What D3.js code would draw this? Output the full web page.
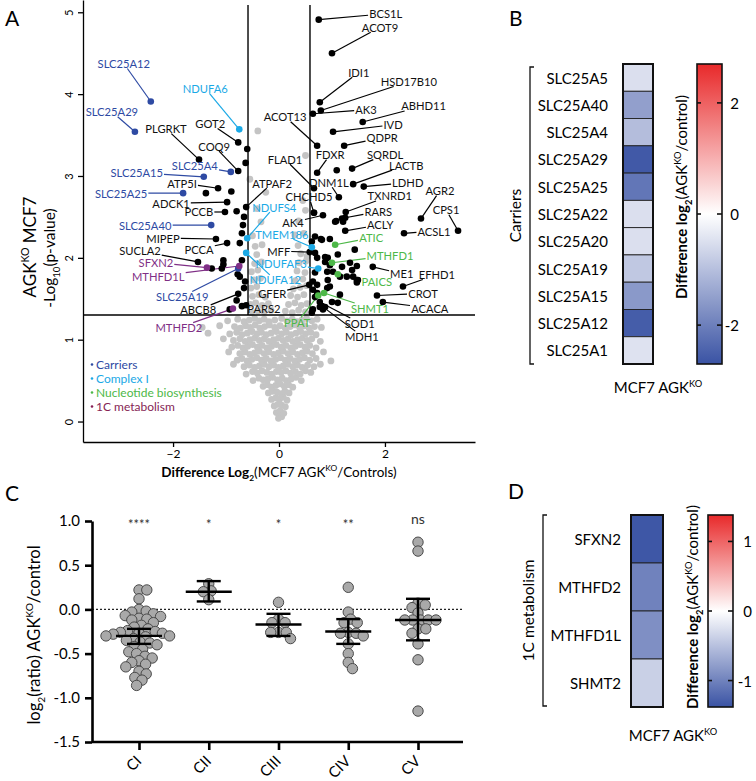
<!DOCTYPE html>
<html><head><meta charset="utf-8">
<script src="https://cdn.jsdelivr.net/npm/d3@7"></script>
<style>body{margin:0;background:#fff} text{font-family:Lato,'Open Sans',sans-serif}</style>
</head><body><svg id="c" width="756" height="781"></svg>
<script>
// ---------------- DATA ----------------
// Panel A: volcano plot  (x = log2 difference, y = -log10 p)
const grayPoints = [
 [-0.01,0.04],[0.05,0.06],
 [-0.05,0.11],[0.02,0.13],[0.09,0.1],
 [-0.09,0.19],[-0.02,0.21],[0.05,0.2],[0.12,0.18],
 [-0.14,0.27],[-0.06,0.29],[0.01,0.27],[0.08,0.3],[0.15,0.26],
 [-0.2,0.35],[-0.12,0.37],[-0.04,0.36],[0.04,0.34],[0.11,0.37],[0.19,0.35],
 [-0.3,0.43],[-0.22,0.45],[-0.14,0.42],[-0.06,0.44],[0.02,0.46],[0.1,0.43],[0.18,0.45],[0.26,0.42],
 [-0.49,0.5],[-0.38,0.53],[-0.3,0.51],[-0.21,0.52],[-0.12,0.54],[-0.03,0.51],[0.06,0.53],[0.14,0.5],[0.23,0.52],[0.32,0.54],[0.42,0.5],
 [-0.62,0.58],[-0.5,0.61],[-0.41,0.59],[-0.32,0.62],[-0.23,0.6],[-0.14,0.58],[-0.05,0.61],[0.04,0.6],[0.13,0.62],[0.22,0.59],[0.31,0.61],[0.4,0.58],[0.5,0.62],[0.6,0.6],
 [-0.86,0.7],[-0.66,0.67],[-0.56,0.69],[-0.46,0.66],[-0.37,0.68],[-0.28,0.7],[-0.19,0.67],[-0.1,0.69],[-0.01,0.66],[0.08,0.68],[0.17,0.7],[0.26,0.67],[0.35,0.69],[0.44,0.66],[0.54,0.69],[0.66,0.67],[0.78,0.7],
 [-0.79,0.75],[-0.7,0.77],[-0.6,0.74],[-0.51,0.76],[-0.42,0.78],[-0.33,0.75],[-0.24,0.77],[-0.15,0.74],[-0.06,0.76],[0.03,0.78],[0.12,0.75],[0.21,0.77],[0.3,0.74],[0.39,0.76],[0.48,0.78],[0.58,0.75],[0.7,0.77],[0.98,0.74],
 [-0.95,0.85],[-0.74,0.83],[-0.64,0.85],[-0.55,0.82],[-0.46,0.84],[-0.37,0.86],[-0.28,0.83],[-0.19,0.85],[-0.1,0.82],[-0.01,0.84],[0.08,0.86],[0.17,0.83],[0.26,0.85],[0.35,0.82],[0.44,0.84],[0.53,0.86],[0.63,0.83],[0.84,0.85],
 [-0.89,0.91],[-0.78,0.93],[-0.68,0.9],[-0.59,0.92],[-0.5,0.94],[-0.41,0.91],[-0.32,0.93],[-0.23,0.9],[-0.14,0.92],[-0.05,0.94],[0.04,0.91],[0.13,0.93],[0.22,0.9],[0.31,0.92],[0.4,0.94],[0.49,0.91],[0.58,0.93],[0.7,0.9],
 [-1.05,1.01],[-0.86,0.99],[-0.74,1.01],[-0.64,0.98],[-0.55,1.0],[-0.46,1.02],[-0.37,0.99],[-0.28,1.01],[-0.19,0.98],[-0.1,1.0],[-0.01,1.02],[0.08,0.99],[0.17,1.01],[0.26,0.98],[0.35,1.0],[0.44,1.02],[0.53,0.99],[0.62,1.01],[0.78,0.98],
 [-1.34,1.08],[-0.93,1.07],[-0.8,1.09],[-0.7,1.06],[-0.6,1.08],[-0.51,1.1],[-0.42,1.07],[-0.33,1.09],[-0.24,1.06],[-0.15,1.08],[-0.05,1.1],[0.05,1.07],[0.14,1.09],[0.23,1.06],[0.32,1.08],[0.41,1.1],[0.5,1.07],[0.6,1.09],[0.7,1.06],
 [-1.45,1.15],[-1.12,1.17],[-0.84,1.16],[-0.73,1.14],[-0.63,1.17],[-0.54,1.15],[-0.45,1.18],[-0.36,1.14],[-0.27,1.16],[-0.18,1.18],[-0.08,1.15],[0.02,1.17],[0.12,1.14],[0.21,1.16],[0.3,1.18],[0.39,1.15],[0.48,1.17],[0.57,1.14],[0.67,1.16],[0.8,1.15],
 [-0.97,1.23],[-0.78,1.25],[-0.66,1.22],[-0.56,1.24],[-0.46,1.26],[-0.37,1.23],[-0.28,1.25],[-0.19,1.22],[-0.08,1.24],[0.05,1.26],[0.15,1.23],[0.25,1.25],[0.34,1.22],[0.43,1.24],[0.52,1.26],[0.62,1.23],[0.72,1.25],
 [-0.52,1.33],[-0.4,1.35],[-0.28,1.34],[-0.15,1.36],[0.12,1.35],[0.25,1.33],[0.37,1.36],[0.5,1.34],
 [-0.54,1.43],[-0.44,1.45],[-0.32,1.42],[-0.2,1.44],[0.18,1.43],[0.3,1.45],[0.42,1.42],[0.53,1.44],
 [-0.5,1.53],[-0.38,1.55],[-0.26,1.52],[0.22,1.54],[0.35,1.52],[0.47,1.55],
 [-0.53,1.63],[-0.42,1.65],[0.27,1.62],[0.4,1.64],[0.52,1.66],
 [-0.47,1.73],[-0.35,1.75],[0.31,1.72],[0.45,1.74],
 [-0.52,1.83],[-0.4,1.85],[0.34,1.84],[0.49,1.82],
 [-0.46,1.93],[-0.33,1.95],[0.38,1.94],[0.51,1.96],
 [-0.42,2.04],[0.41,2.05],[0.53,2.02],
 [-0.45,2.14],[-0.32,2.16],[0.36,2.15],
 [-0.5,2.27],[0.3,2.28],[0.47,2.3],
 [-0.34,2.44],[0.37,2.45],
 [-0.41,2.6],[0.5,2.58],[0.45,2.7],
 [-0.25,2.8],[-0.55,2.96],[0.5,3.25],[-0.4,3.55]
];
const blackPoints = [
 [-0.6,3.33],[-0.63,3.16],[-1.38,2.79],[-0.9,2.81],[-0.8,2.57],[-1.27,1.87],[-1.08,1.87],[-1.05,1.97],
 [-1.05,1.92],[-0.78,1.8],[-0.74,1.77],[-0.64,1.71],[-0.74,2.18],[-0.7,2.3],[-0.68,2.4],[-0.66,2.5],
 [-0.8,1.48],[-0.62,1.42],[-0.93,1.37],[-0.7,1.97],[-0.66,1.63],
 [0.66,2.55],[1.06,2.44],[1.21,2.44],[0.68,2.26],[0.62,2.2],[0.81,2.22],[0.96,2.23],[1.43,2.1],
 [0.68,2.06],[0.72,2.0],[0.92,2.0],[0.87,1.95],[0.96,1.91],[1.19,1.89],[1.38,1.85],[1.47,1.7],
 [1.28,1.77],[1.47,1.73],[0.91,1.83],[0.92,1.73],[0.68,1.82],[0.64,1.71],[0.72,1.67],[0.64,1.61],
 [0.68,1.52],[0.91,1.63],[0.87,1.4],[0.83,1.37],[0.64,1.37],[0.62,1.33],[1.11,1.45],[1.15,1.55],
 [1.09,3.07],[1.19,2.48],[1.08,2.45],[0.79,2.23],[1.11,2.04],[1.34,1.94],[1.47,1.9],[0.87,2.01],
 [1.02,1.83],[1.15,1.77],[1.4,1.77],[1.49,1.73],[0.96,1.65],[0.72,1.57],[1.0,1.46],[0.77,1.4]
];
// labelled proteins: name, x, y, category
const labelNames = ['BCS1L','ACOT9','IDI1','HSD17B10','AK3','ABHD11','IVD','ACOT13','QDPR','FDXR','SQRDL','LACTB','LDHD','FLAD1','DNM1L','CHCHD5','TXNRD1','RARS','AK4','AGR2','ACLY','CPS1','ACSL1','MFF','ME1','EFHD1','GFER','CROT','ACACA','SOD1','MDH1',
 'GOT2','PLGRKT','COQ9','ATP5I','ADCK1','PCCB','ATPAF2','MIPEP','PCCA','SUCLA2','ABCB8','PARS2',
 'SLC25A12','SLC25A29','SLC25A4','SLC25A15','SLC25A25','SLC25A40','SLC25A19',
 'NDUFA6','NDUFS4','NDUFA12','TMEM186','NDUFAF3',
 'ATIC','MTHFD1','PAICS','SHMT1','PPAT',
 'SFXN2','MTHFD1L','MTHFD2'];
const labelX = [0.75,1.0,0.77,0.79,0.64,1.58,1.02,0.72,1.23,0.72,1.38,1.4,1.6,0.66,1.13,0.66,1.26,1.25,0.83,2.68,1.25,3.38,2.36,0.58,1.77,2.34,0.57,1.85,1.96,0.77,0.81,
 -0.77,-1.51,-0.77,-1.15,-0.98,-1.02,-0.62,-1.19,-0.98,-1.53,-0.77,-0.7,
 -2.42,-2.72,-0.91,-1.42,-1.81,-1.28,-0.77,
 -0.75,-0.6,-0.62,0.62,0.74,
 1.06,1.0,1.11,0.85,0.74,
 -1.36,-0.75,-0.87];
const labelY = [4.91,4.5,3.9,3.8,3.76,3.66,3.54,3.37,3.37,3.04,3.09,2.9,2.87,2.85,2.74,2.55,2.56,2.49,2.52,2.48,2.33,2.33,2.3,2.07,1.89,1.65,1.67,1.54,1.46,1.46,1.41,
 3.41,3.2,3.06,2.85,2.68,2.56,2.62,2.23,2.18,1.95,1.56,1.41,
 3.91,3.54,3.05,2.99,2.79,2.4,1.87,
 3.57,2.24,2.06,2.13,1.87,
 2.16,1.94,1.8,1.57,1.54,
 1.88,1.9,1.38];
const labelCat = [].concat(Array(43).fill('none'),Array(7).fill('carrier'),Array(5).fill('cI'),Array(5).fill('nuc'),Array(3).fill('oneC'));
// label text offsets from their point (px) – layout
const labelOff = [[67,-6],[48,-26],[39,-30],[88,-29],[53,-4],[61,-16],[60,-7],[-32,-29],[38,-8],[13,-18],[33,-14],[53,-19],[44,-4],[-29,-29],[-10,-15],[-5,-16],[44,-16],[33,-6],[-30,7],[19,-28],[35,-6],[-12,-21],[30,-2],[-31,-1],[29,7],[34,-12],[-37,9],[46,-2],[47,6],[40,21],[40,30],
 [-28,-19],[-33,-31],[-24,-25],[-36,-5],[-56,1],[-26,0],[26,-24],[-53,-1],[-28,6],[-58,-11],[-40,16],[22,2],
 [-27,-38],[-23,-20],[-36,-6],[-67,-4],[-62,0],[-66,0],[-56,28],
 [-34,-41],[27,-31],[29,27],[-30,-13],[-37,-5],
 [36,-7],[58,-7],[39,7],[46,15],[-21,27],
 [-51,-5],[-81,10],[-54,19]];
const legendNames = ['Carriers','Complex I','Nucleotide biosynthesis','1C metabolism'];
const yTicksA = [0,1,2,3,4,5];
const xTicksA = [-2,0,2];

// Panel B heatmap
const bGenes = ['SLC25A5','SLC25A40','SLC25A4','SLC25A29','SLC25A25','SLC25A22','SLC25A20','SLC25A19','SLC25A15','SLC25A12','SLC25A1'];
const bVals = [-0.5,-1.5,-1.03,-2.6,-2.15,-0.5,-0.5,-0.87,-1.6,-2.55,-0.45];
const bTicks = [-2,0,2];
// Panel D heatmap
const dGenes = ['SFXN2','MTHFD2','MTHFD1L','SHMT2'];
const dVals = [-1.35,-1.0,-0.9,-0.38];
const dTicks = [-1,0,1];
// Panel C dot plot
const cCats = ['CI','CII','CIII','CIV','CV'];
const cSig = ['****','*','*','**','ns'];
const cMean = [-0.3,0.2,-0.17,-0.25,-0.12];
const cLow = [-0.39,0.09,-0.3,-0.39,-0.35];
const cHigh = [-0.22,0.32,-0.05,-0.11,0.12];
const cCI = [0.22,0.22,0.12,0.0,-0.02,-0.03,-0.05,-0.07,-0.08,-0.1,-0.11,-0.12,-0.15,-0.18,-0.2,-0.22,-0.24,-0.25,-0.26,-0.27,-0.27,-0.28,-0.3,-0.3,-0.31,-0.33,-0.35,-0.37,-0.38,-0.4,-0.42,-0.45,-0.48,-0.5,-0.53,-0.55,-0.58,-0.6,-0.62,-0.65,-0.7,-0.73,-0.77,-0.8,-0.86];
const cCII = [0.29,0.21,0.2,0.11];
const cCIII = [0.08,-0.11,-0.15,-0.15,-0.26,-0.26,-0.26,-0.33];
const cCIV = [0.25,-0.03,-0.11,-0.15,-0.15,-0.26,-0.27,-0.27,-0.3,-0.39,-0.5,-0.6,-0.67];
const cCV = [0.76,0.66,0.07,0.05,0.02,-0.04,-0.12,-0.12,-0.12,-0.12,-0.12,-0.22,-0.22,-0.27,-0.39,-0.57,-1.15];
const cTicks = [-1.5,-1.0,-0.5,0.0,0.5,1.0];

// ---------------- DRAW ----------------
const svg = d3.select('#c');
const catColor = {none:'#000', carrier:'#2e4aa3', cI:'#1ba9e6', nuc:'#4db848', oneC:'#7f2f86'};
const legColor = ['#2e4aa3','#1ba9e6','#4db848','#861f55'];

function rich(t, parts, size){
  let cur = 0;
  parts.forEach(p=>{
    const ts = t.append('tspan').text(p.t);
    const off = p.sub ? size*0.3 : (p.sup ? -size*0.42 : 0);
    ts.attr('dy', off-cur); cur = off;
    if(p.sub||p.sup) ts.attr('font-size', size*0.62);
    if(p.b) ts.attr('font-weight','bold');
  });
  return t;
}
function panelLetter(s,x,y){ svg.append('text').attr('x',x).attr('y',y).attr('font-size',21).attr('dominant-baseline','central').text(s); }

// ===== Panel A =====
const xA = d3.scaleLinear().domain([-3.7,3.7]).range([83,475]);
const yA = d3.scaleLinear().domain([-0.25,5.15]).range([442,0]);
const gA = svg.append('g');
panelLetter('A',5,17);
gA.append('g').selectAll('circle').data(grayPoints).join('circle')
  .attr('cx',d=>xA(d[0])).attr('cy',d=>yA(d[1])).attr('r',3.4).attr('fill','#c4c4c4');
// thresholds
const thrY = 1.301, thrX = 0.585;
gA.append('line').attr('x1',xA(-3.7)).attr('x2',xA(3.7)).attr('y1',yA(thrY)).attr('y2',yA(thrY)).attr('stroke','#000').attr('stroke-width',1.4);
[-thrX,thrX].forEach(v=>gA.append('line').attr('x1',xA(v)).attr('x2',xA(v)).attr('y1',yA(5.09)).attr('y2',yA(thrY)).attr('stroke','#000').attr('stroke-width',1.4));
// axes
const axL = gA.append('g').attr('transform','translate(83,0)').call(d3.axisLeft(yA).tickValues(yTicksA).tickSize(5).tickSizeOuter(0).tickFormat(d3.format('d')));
axL.selectAll('text').attr('x',0).attr('dy',0).attr('transform','translate(-10,0) rotate(-90)').attr('text-anchor','middle').attr('font-size',11).attr('font-family','Lato');
const axB = gA.append('g').attr('transform','translate(0,442)').call(d3.axisBottom(xA).tickValues(xTicksA).tickSize(5).tickSizeOuter(0).tickFormat(d3.format('d')));
axB.selectAll('text').attr('font-size',12).attr('font-family','Lato').attr('y',7);
[axL,axB].forEach(a=>{a.selectAll('path,line').attr('stroke','#000').attr('stroke-width',1.3);});
// axis titles
rich(gA.append('text').attr('transform','translate(36,247) rotate(-90)').attr('text-anchor','middle').attr('font-size',17),
  [{t:'AGK'},{t:'KO',sup:true},{t:' MCF7'}],17);
rich(gA.append('text').attr('transform','translate(55,258) rotate(-90)').attr('text-anchor','middle').attr('font-size',15.5),
  [{t:'-Log'},{t:'10',sub:true},{t:'(p-value)'}],15.5);
rich(gA.append('text').attr('x',279).attr('y',477).attr('text-anchor','middle').attr('font-size',13.5),
  [{t:'Difference Log',b:true},{t:'2',sub:true,b:true},{t:'(MCF7 AGK'},{t:'KO',sup:true},{t:'/Controls)'}],13.5);
// black (unlabelled significant) points
const gLines = gA.append('g'), gDots = gA.append('g'), gLab = gA.append('g');
gDots.selectAll('circle.b').data(blackPoints).join('circle').attr('class','b')
  .attr('cx',d=>xA(d[0])).attr('cy',d=>yA(d[1])).attr('r',3.3).attr('fill','#000');
// labelled points
labelNames.forEach((n,i)=>{
  const px = xA(labelX[i]), py = yA(labelY[i]);
  const col = catColor[labelCat[i]];
  const cx = px+labelOff[i][0], cy = py+labelOff[i][1];
  const t = gLab.append('text').attr('x',cx).attr('y',cy).attr('text-anchor','middle').attr('dominant-baseline','central')
    .attr('font-size',11.2).attr('fill',labelCat[i]==='none'?'#111':col).text(n);
  const bb = t.node().getBBox();
  const hw = bb.width/2+1, hh = 5;
  const vx = px-cx, vy = py-cy;
  const s = Math.min(vx? hw/Math.abs(vx):Infinity, vy? hh/Math.abs(vy):Infinity);
  if(s<0.9) gLines.append('line').attr('x1',cx+vx*s).attr('y1',cy+vy*s).attr('x2',px).attr('y2',py).attr('stroke',col).attr('stroke-width',1.2);
  gDots.append('circle').attr('cx',px).attr('cy',py).attr('r',3.3).attr('fill',col);
});
// legend
legendNames.forEach((n,i)=>{
  const y = 364+i*14;
  gA.append('circle').attr('cx',92).attr('cy',y+0.5).attr('r',1.3).attr('fill',legColor[i]);
  gA.append('text').attr('x',96).attr('y',y).attr('dominant-baseline','central').attr('font-size',12).attr('fill',legColor[i]).text(n);
});

// ===== Heatmap helper (B and D) =====
function heatmap(o){
  const g = svg.append('g');
  const yb = d3.scaleBand().domain(o.genes).range([o.y0,o.y1]);
  const col = d3.scaleLinear().domain([-o.lim,0,o.lim]).range(['#3a53a4','#ffffff','#e8292a']).clamp(true);
  g.selectAll('rect.c').data(o.genes).join('rect').attr('class','c')
    .attr('x',o.cx).attr('width',o.cw).attr('y',d=>yb(d)).attr('height',yb.bandwidth())
    .attr('fill',(d,i)=>col(o.vals[i])).attr('stroke','#222').attr('stroke-width',0.9);
  g.append('rect').attr('x',o.cx).attr('y',o.y0).attr('width',o.cw).attr('height',o.y1-o.y0).attr('fill','none').attr('stroke','#111').attr('stroke-width',2);
  g.selectAll('text.g').data(o.genes).join('text').attr('class','g').attr('x',o.lx).attr('y',d=>yb(d)+yb.bandwidth()/2)
    .attr('text-anchor','end').attr('dominant-baseline','central').attr('font-size',15).text(d=>d);
  // bracket
  g.append('path').attr('d',`M${o.bx+4},${o.by0}H${o.bx}V${o.by1}H${o.bx+4}`).attr('fill','none').attr('stroke','#111').attr('stroke-width',1.3);
  g.append('text').attr('transform',`translate(${o.gx},${(o.by0+o.by1)/2}) rotate(-90)`).attr('text-anchor','middle').attr('dominant-baseline','central').attr('font-size',15.5).text(o.group);
  // colorbar
  const gid = 'grad'+o.id;
  const grad = svg.append('defs').append('linearGradient').attr('id',gid).attr('x1',0).attr('x2',0).attr('y1',1).attr('y2',0);
  d3.range(0,1.0001,0.1).forEach(t=>grad.append('stop').attr('offset',t).attr('stop-color',col(-o.lim+2*o.lim*t)));
  const ys = d3.scaleLinear().domain([-o.lim,o.lim]).range([o.y1,o.y0]);
  g.append('rect').attr('x',o.kx).attr('y',o.y0).attr('width',o.kw).attr('height',o.y1-o.y0).attr('fill',`url(#${gid})`).attr('stroke','#111').attr('stroke-width',1.6);
  o.ticks.forEach(v=>{
    g.append('line').attr('x1',o.kx).attr('x2',o.kx+4).attr('y1',ys(v)).attr('y2',ys(v)).attr('stroke','#111').attr('stroke-width',1.6);
    g.append('line').attr('x1',o.kx+o.kw-5).attr('x2',o.kx+o.kw).attr('y1',ys(v)).attr('y2',ys(v)).attr('stroke','#111').attr('stroke-width',1.6);
    g.append('text').attr('x',o.tx).attr('y',ys(v)).attr('text-anchor','end').attr('dominant-baseline','central').attr('font-size',15).text(v);
  });
  rich(g.append('text').attr('transform',`translate(${o.kx-10},${o.ty}) rotate(-90)`).attr('text-anchor','middle').attr('font-size',15),
    [{t:'Difference log',b:true},{t:'2',sub:true,b:true},{t:'(AGK'},{t:'KO',sup:true},{t:'/control)'}],15);
  rich(g.append('text').attr('x',o.mx).attr('y',o.my).attr('text-anchor','middle').attr('font-size',15),
    [{t:'MCF7 AGK'},{t:'KO',sup:true}],15);
}
panelLetter('B',509,17);
heatmap({id:'B',genes:bGenes,vals:bVals,lim:2.7,y0:64,y1:364,cx:623,cw:30,lx:608,bx:530,by0:67,by1:364,gx:515,group:'Carriers',
  kx:697,kw:25,ticks:bTicks,tx:739,ty:197,mx:658,my:393});
panelLetter('D',508,490);
heatmap({id:'D',genes:dGenes,vals:dVals,lim:1.38,y0:515,y1:707,cx:631,cw:32,lx:621,bx:543,by0:515,by1:706,gx:528,group:'1C metabolism',
  kx:708,kw:25,ticks:dTicks,tx:752,ty:607,mx:673,my:741});

// ===== Panel C =====
panelLetter('C',5,492);
const gC = svg.append('g');
const xC = d3.scalePoint().domain(cCats).range([139,418]);
const yC = d3.scaleLinear().domain([-1.5,1.0]).range([742,521]);
gC.append('line').attr('x1',92).attr('x2',463).attr('y1',yC(0)).attr('y2',yC(0)).attr('stroke','#222').attr('stroke-width',1.3).attr('stroke-dasharray','2,2');
const axCL = gC.append('g').attr('transform','translate(92,0)').call(d3.axisLeft(yC).tickValues(cTicks).tickSize(7).tickSizeOuter(0).tickFormat(d3.format('.1f')));
axCL.selectAll('text').attr('font-size',15).attr('font-family','Lato').attr('x',-12).text(d=>d3.format('.1f')(d).replace('−','-'));
const axCB = gC.append('g').attr('transform','translate(0,742)').call(d3.axisBottom(xC).tickSize(8).tickSizeOuter(0));
axCB.select('.domain').attr('d','M92,0H463');
axCB.selectAll('text').attr('font-size',15).attr('font-family','Lato').attr('text-anchor','end').attr('y',0).attr('dy',0)
  .attr('transform','translate(3,20) rotate(-45)');
[axCL,axCB].forEach(a=>{a.selectAll('path,line').attr('stroke','#000').attr('stroke-width',2.6);});
rich(gC.append('text').attr('transform','translate(40,635) rotate(-90)').attr('text-anchor','middle').attr('font-size',16.5),
  [{t:'log'},{t:'2',sub:true},{t:'(ratio) AGK'},{t:'KO',sup:true},{t:'/control'}],16.5);
// swarm layout
function swarm(vals, cx, r){
  const placed = [];
  const order = vals.map((v,i)=>i).sort((a,b)=>vals[b]-vals[a]);
  order.forEach(i=>{
    const py = yC(vals[i]);
    for(let k=0;k<160;k++){
      const off = (k%2?1:-1)*Math.ceil(k/2)*0.6;
      const px = cx+off;
      if(placed.every(p=>Math.hypot(p[0]-px,p[1]-py)>=2*r-3)){placed.push([px,py]);break;}
    }
  });
  return placed;
}
const cAll = [cCI,cCII,cCIII,cCIV,cCV];
cAll.forEach((vals,i)=>{
  const cx = xC(cCats[i]);
  gC.append('g').selectAll('circle').data(swarm(vals,cx,5.2)).join('circle')
    .attr('cx',d=>d[0]).attr('cy',d=>d[1]).attr('r',5.2).attr('fill','#a9a9a9').attr('stroke','#4a4a4a').attr('stroke-width',1);
  const g = gC.append('g').attr('stroke','#000').attr('stroke-width',2.4);
  g.append('line').attr('x1',cx-23).attr('x2',cx+23).attr('y1',yC(cMean[i])).attr('y2',yC(cMean[i]));
  g.append('line').attr('x1',cx).attr('x2',cx).attr('y1',yC(cLow[i])).attr('y2',yC(cHigh[i]));
  [cLow[i],cHigh[i]].forEach(v=>g.append('line').attr('x1',cx-12).attr('x2',cx+12).attr('y1',yC(v)).attr('y2',yC(v)));
  gC.append('text').attr('x',cx).attr('y',cSig[i]==='ns'?518:524).attr('text-anchor','middle').attr('dominant-baseline','central')
    .attr('font-size',cSig[i]==='ns'?14:13).attr('fill','#333').text(cSig[i]);
});
</script></body></html>
